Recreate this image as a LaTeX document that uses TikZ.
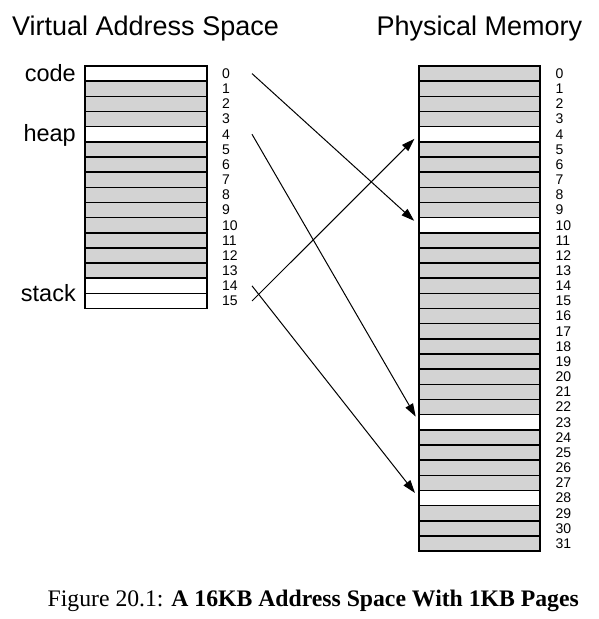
\documentclass[tikz,border=0pt]{standalone}
\usepackage{fontspec}
\setmainfont{Liberation Serif}
\setsansfont{Liberation Sans}
\usetikzlibrary{arrows.meta}
\definecolor{pagegray}{RGB}{211,211,211}
\begin{document}
\begin{tikzpicture}[x=1pt,y=-1pt,
  row/.style={draw=black, line width=1.5pt, minimum width=122pt, minimum height=15.16pt, inner sep=0pt, outer sep=0pt},
  prow/.style={row, minimum width=121pt},
  num/.style={font=\sffamily\fontsize{14}{14}\selectfont, anchor=west, inner sep=0pt},
  lab/.style={font=\sffamily\fontsize{23.5}{23.5}\selectfont, anchor=base east, inner sep=0pt},
  ttl/.style={font=\sffamily\fontsize{27}{27}\selectfont, anchor=base west, inner sep=0pt},
  map/.style={line width=1pt, -{Triangle[length=13pt,width=8.5pt]}, shorten >=6.5pt}
]
\useasboundingbox (0,0) rectangle (598,619);
% titles
\node[ttl] (tv) at (12,35) {Virtual Address Space};
\node[ttl] (tp) at (376.5,35) {Physical Memory};
% virtual address space
\foreach \i in {0,...,15}{
  \ifnum\i=0 \def\fc{white}\else\ifnum\i=4 \def\fc{white}\else\ifnum\i>13 \def\fc{white}\else\def\fc{pagegray}\fi\fi\fi
  \node[row, fill=\fc] (v\i) at (146, {66+(\i+0.5)*15.16}) {};
  \node[num] (vn\i) at (222, {66+(\i+0.5)*15.16}) {\i};
}
% physical memory
\foreach \i in {0,...,31}{
  \ifnum\i=4 \def\fc{white}\else\ifnum\i=10 \def\fc{white}\else\ifnum\i=23 \def\fc{white}\else\ifnum\i=28 \def\fc{white}\else\def\fc{pagegray}\fi\fi\fi\fi
  \node[prow, fill=\fc] (p\i) at (479.5, {66+(\i+0.5)*15.16}) {};
  \node[num] (pn\i) at (555.5, {66+(\i+0.5)*15.16}) {\i};
}
% labels
\node[lab] (lcode) at (76,81) {code};
\node[lab] (lheap) at (76,141.5) {heap};
\node[lab] (lstack) at (76,301.5) {stack};
% arrow start points
\coordinate (a0) at (252, {66+0.5*15.16});
\coordinate (a4) at (252, {66+4.5*15.16});
\coordinate (a14) at (252, {66+14.5*15.16});
\coordinate (a15) at (252, {66+15.5*15.16});
\draw[map] (a0) -- (p10.west);
\draw[map] (a4) -- (p23.west);
\draw[map] (a14) -- (p28.west);
\draw[map] (a15) -- (p4.west);
% caption
\node[anchor=base west, inner sep=0pt, font=\fontsize{23.7}{23.7}\selectfont] (cap) at (47.5,606.5) {Figure 20.1: \textbf{A 16KB Address Space With 1KB Pages}};
\end{tikzpicture}
\end{document}
